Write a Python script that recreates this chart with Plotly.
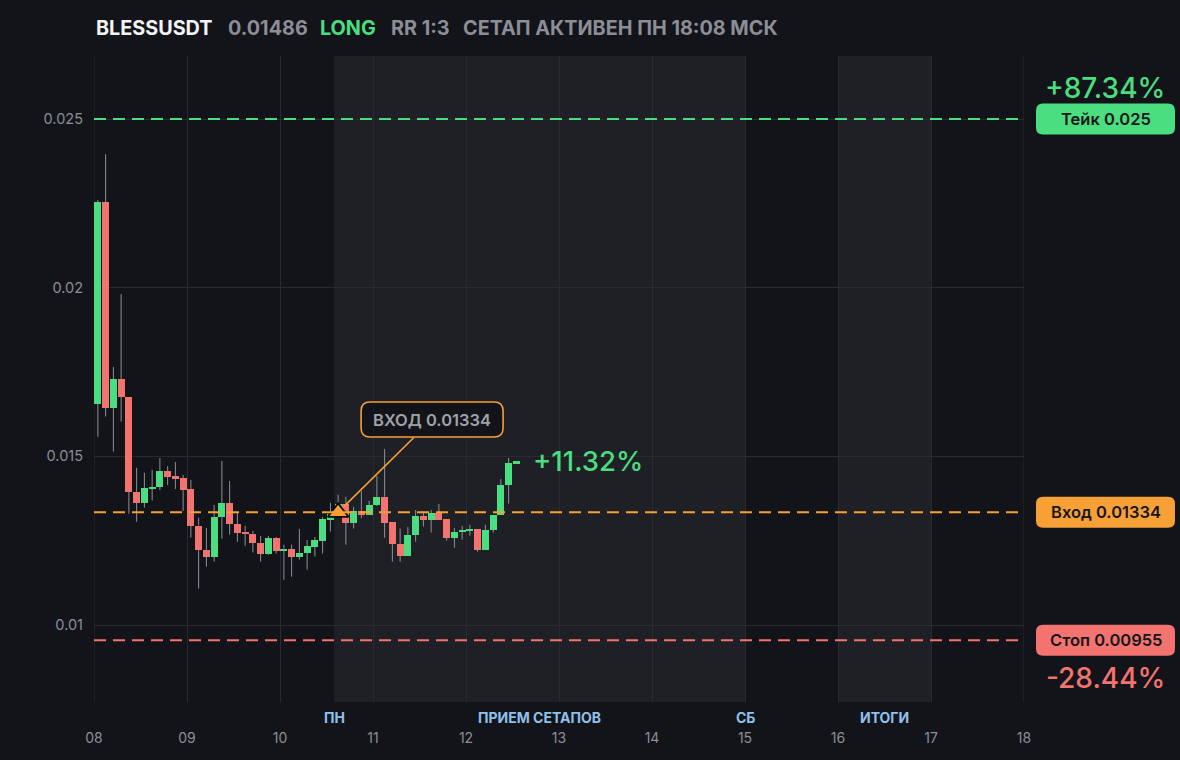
import pandas as pd
import plotly.graph_objects as go

# ---------------- data ----------------
symbol = "BLESSUSDT"
last_price = "0.01486"
side = "LONG"
rr_text = "RR 1:3"
status_text = "СЕТАП АКТИВЕН ПН 18:08 МСК"

candle_start = "2025-11-08 00:00"
candle_interval_hours = 2

opens = [0.01656, 0.02254, 0.01644, 0.01729, 0.01677, 0.01395, 0.01363, 0.01406, 0.01409, 0.01457,
         0.01442, 0.01436, 0.01403, 0.01295, 0.01223, 0.01203, 0.01320, 0.01362, 0.01300, 0.01277,
         0.01271, 0.01244, 0.01212, 0.01258, 0.01220, 0.01225, 0.01203, 0.01214, 0.01231, 0.01250,
         0.01311, 0.01329, 0.01359, 0.01303, 0.01338, 0.01326, 0.01356, 0.01380, 0.01306, 0.01241,
         0.01206, 0.01267, 0.01323, 0.01312, 0.01332, 0.01314, 0.01259, 0.01276, 0.01279, 0.01285,
         0.01223, 0.01282, 0.01326, 0.01415, 0.01477]
highs = [0.02260, 0.02396, 0.01765, 0.01981, 0.01677, 0.01466, 0.01451, 0.01460, 0.01495, 0.01471,
         0.01483, 0.01445, 0.01430, 0.01318, 0.01288, 0.01356, 0.01486, 0.01427, 0.01333, 0.01294,
         0.01279, 0.01264, 0.01264, 0.01261, 0.01238, 0.01238, 0.01285, 0.01252, 0.01261, 0.01320,
         0.01362, 0.01386, 0.01380, 0.01350, 0.01397, 0.01368, 0.01442, 0.01522, 0.01306, 0.01286,
         0.01291, 0.01341, 0.01335, 0.01341, 0.01359, 0.01314, 0.01288, 0.01294, 0.01297, 0.01285,
         0.01297, 0.01326, 0.01433, 0.01495, 0.01486]
lows = [0.01558, 0.01618, 0.01514, 0.01603, 0.01330, 0.01306, 0.01348, 0.01369, 0.01400, 0.01415,
        0.01403, 0.01338, 0.01259, 0.01108, 0.01173, 0.01188, 0.01256, 0.01268, 0.01247, 0.01235,
        0.01215, 0.01188, 0.01208, 0.01212, 0.01134, 0.01143, 0.01194, 0.01164, 0.01203, 0.01212,
        0.01277, 0.01320, 0.01238, 0.01286, 0.01317, 0.01326, 0.01353, 0.01259, 0.01188, 0.01188,
        0.01206, 0.01247, 0.01292, 0.01274, 0.01312, 0.01250, 0.01229, 0.01253, 0.01265, 0.01217,
        0.01223, 0.01274, 0.01326, 0.01360, 0.01477]
closes = [0.02254, 0.01644, 0.01729, 0.01677, 0.01395, 0.01363, 0.01406, 0.01409, 0.01457, 0.01439,
          0.01433, 0.01400, 0.01295, 0.01223, 0.01203, 0.01320, 0.01362, 0.01300, 0.01274, 0.01271,
          0.01244, 0.01212, 0.01258, 0.01220, 0.01226, 0.01203, 0.01214, 0.01234, 0.01252, 0.01314,
          0.01329, 0.01359, 0.01303, 0.01338, 0.01326, 0.01356, 0.01380, 0.01303, 0.01241, 0.01206,
          0.01267, 0.01323, 0.01312, 0.01332, 0.01312, 0.01259, 0.01276, 0.01279, 0.01285, 0.01223,
          0.01282, 0.01326, 0.01415, 0.01480, 0.01486]

take_price = 0.025
entry_price = 0.01334
stop_price = 0.00955
take_pct = "+87.34%"
stop_pct = "-28.44%"
current_pct = "+11.32%"
entry_candle_index = 31          # candle where the entry marker sits

x_range = ["2025-11-08 00:00", "2025-11-18 00:00"]
y_range = [0.007718, 0.026868]
y_tick_vals = [0.01, 0.015, 0.02, 0.025]
y_tick_text = ["0.01", "0.015", "0.02", "0.025"]
x_tick_days = ["2025-11-%02d" % d for d in range(8, 19)]
x_tick_text = ["%02d" % d for d in range(8, 19)]

session_bands = [("2025-11-10 14:00", "2025-11-15 00:00"), ("2025-11-16 00:00", "2025-11-17 00:00")]
bottom_labels = [("2025-11-10 14:00", "ПН"), ("2025-11-12 19:00", "ПРИЕМ СЕТАПОВ"),
                 ("2025-11-15 00:00", "СБ"), ("2025-11-16 12:00", "ИТОГИ")]
callout_center = ("2025-11-11 15:15", 0.016093)

# ---------------- style ----------------
BG = "#131419"
BAND = "#1f2025"
GRID = "#2a2b31"
GREEN = "#4ade80"
RED = "#f2736f"
ORANGE = "#f7a035"
WICK = "rgba(155,157,165,0.9)"
GRAY_TXT = "#8b8e96"
FONT = "Inter"

interval = pd.Timedelta(hours=candle_interval_hours)
t_open = pd.date_range(candle_start, periods=len(opens), freq=f"{candle_interval_hours}h")
t_center = t_open + interval / 2

fig = go.Figure()

# wicks (only the parts outside the bodies)
wx, wy = [], []
for t, o, c, lo, hi in zip(t_center, opens, closes, lows, highs):
    top, bot = max(o, c), min(o, c)
    if hi > top:
        wx += [t, t, None]
        wy += [top, hi, None]
    if lo < bot:
        wx += [t, t, None]
        wy += [lo, bot, None]
fig.add_trace(go.Scatter(x=wx, y=wy, mode="lines", line=dict(color=WICK, width=1),
                         hoverinfo="skip", showlegend=False))

# bodies
base = [min(o, c) for o, c in zip(opens, closes)]
height = [max(abs(c - o), 0.00004) for o, c in zip(opens, closes)]
colors = [GREEN if c >= o else RED for o, c in zip(opens, closes)]
fig.add_trace(go.Bar(x=t_center, y=height, base=base, width=interval.total_seconds() * 1000 * 0.9,
                     marker=dict(color=colors, line=dict(width=0)), showlegend=False,
                     hoverinfo="skip"))

# entry marker
fig.add_trace(go.Scatter(x=[t_center[entry_candle_index]], y=[entry_price], mode="markers",
                         marker=dict(symbol="triangle-up", size=18, color=ORANGE,
                                     line=dict(color="#0c0c0e", width=1.8)),
                         showlegend=False, hoverinfo="skip", cliponaxis=False))

shapes = []
for x0, x1 in session_bands:
    shapes.append(dict(type="rect", xref="x", yref="paper", x0=x0, x1=x1, y0=0, y1=1,
                       fillcolor=BAND, line=dict(width=0), layer="below"))
# edge grid lines (first and last day)
for d in (x_tick_days[0], x_tick_days[-1]):
    shapes.append(dict(type="line", xref="x", yref="paper", x0=d, x1=d, y0=0, y1=1,
                       line=dict(color=GRID, width=1), layer="below"))

for price, col in [(take_price, GREEN), (entry_price, ORANGE), (stop_price, RED)]:
    shapes.append(dict(type="line", xref="paper", yref="y", x0=0, x1=0.994, y0=price, y1=price,
                       line=dict(color=col, width=2, dash="12px,7px")))


def rounded(w, h, r):
    return (f"M {-w + r},{-h} L {w - r},{-h} Q {w},{-h} {w},{-h + r} L {w},{h - r} "
            f"Q {w},{h} {w - r},{h} L {-w + r},{h} Q {-w},{h} {-w},{h - r} "
            f"L {-w},{-h + r} Q {-w},{-h} {-w + r},{-h} Z")


PILL_X = (1105.5 - 94) / 930
for price, col in [(take_price, GREEN), (entry_price, ORANGE), (stop_price, RED)]:
    shapes.append(dict(type="path", xref="paper", yref="y", xsizemode="pixel", ysizemode="pixel",
                       xanchor=PILL_X, yanchor=price, path=rounded(69.5, 15.5, 7),
                       fillcolor=col, line=dict(width=0)))

# callout box
shapes.append(dict(type="path", xref="x", yref="y", xsizemode="pixel", ysizemode="pixel",
                   xanchor=callout_center[0], yanchor=callout_center[1], path=rounded(71, 17.5, 9),
                   fillcolor=BG, line=dict(color=ORANGE, width=1.6)))

annotations = []
# header
hy = (702 - 28) / 646
for px, txt, col in [(94, symbol, "#f2f3f5"), (226, last_price, GRAY_TXT), (318, side, GREEN),
                     (388.5, rr_text, GRAY_TXT), (461, status_text, GRAY_TXT)]:
    annotations.append(dict(xref="paper", yref="paper", x=(px - 94) / 930, y=hy, xanchor="left",
                            yanchor="middle", showarrow=False, text=f"<b>{txt}</b>",
                            font=dict(family=FONT, size=19.8, color=col)))

# pills text
for price, label in [(take_price, "Тейк 0.025"), (entry_price, "Вход 0.01334"), (stop_price, "Стоп 0.00955")]:
    annotations.append(dict(xref="paper", yref="y", x=PILL_X, y=price, showarrow=False,
                            text=label, font=dict(family=FONT, size=16.5, color="#15161a", weight=600),
                            xanchor="center", yanchor="middle"))

annotations.append(dict(xref="paper", yref="paper", x=(1105 - 94) / 930, y=(702 - 88) / 646,
                        text=take_pct, showarrow=False, xanchor="center", yanchor="middle",
                        font=dict(family=FONT, size=28, color=GREEN, weight=500)))
annotations.append(dict(xref="paper", yref="paper", x=(1105 - 94) / 930, y=(702 - 678) / 646,
                        text=stop_pct, showarrow=False, xanchor="center", yanchor="middle",
                        font=dict(family=FONT, size=28, color=RED, weight=500)))
annotations.append(dict(xref="paper", yref="y", x=(531 - 94) / 930, y=closes[-1],
                        text=current_pct, showarrow=False, xanchor="left", yanchor="middle",
                        font=dict(family=FONT, size=27.5, color=GREEN, weight=500)))

# callout with leader line
annotations.append(dict(x=t_center[entry_candle_index], y=entry_price, xref="x", yref="y",
                        axref="x", ayref="y", ax=callout_center[0], ay=callout_center[1],
                        text=f"ВХОД {entry_price}", showarrow=True, arrowhead=0, arrowwidth=1.6,
                        arrowcolor=ORANGE, standoff=7, width=134, height=27, borderpad=4,
                        font=dict(family=FONT, size=16.5, color="#a0a2a9", weight=600)))

# bottom session labels
for x, txt in bottom_labels:
    annotations.append(dict(xref="x", yref="paper", x=x, y=0, yshift=-15, yanchor="middle",
                            xanchor="center", showarrow=False, text=f"<b>{txt}</b>",
                            font=dict(family=FONT, size=14, color="#8fc1ec")))

fig.update_layout(
    width=1180, height=760,
    paper_bgcolor=BG, plot_bgcolor=BG,
    margin=dict(l=94, r=156, t=56, b=58),
    shapes=shapes, annotations=annotations,
    showlegend=False, bargap=0,
    font=dict(family=FONT, color=GRAY_TXT),
    xaxis=dict(type="date", range=x_range, tickvals=x_tick_days, ticktext=x_tick_text,
               showgrid=True, gridcolor=GRID, gridwidth=1, zeroline=False, showline=False,
               ticks="", tickfont=dict(family=FONT, size=14, color=GRAY_TXT),
               ticklabelstandoff=26, fixedrange=True, rangeslider=dict(visible=False)),
    yaxis=dict(range=y_range, tickvals=y_tick_vals, ticktext=y_tick_text, showgrid=True,
               gridcolor=GRID, gridwidth=1, zeroline=False, showline=False, ticks="",
               tickfont=dict(family=FONT, size=14.5, color=GRAY_TXT), ticklabelstandoff=10,
               fixedrange=True),
)

fig.write_html("out.html", config={"displayModeBar": False},
               post_script="document.body.style.margin='0';document.body.style.overflow='hidden';"
                           "document.body.style.background='" + BG + "';")
